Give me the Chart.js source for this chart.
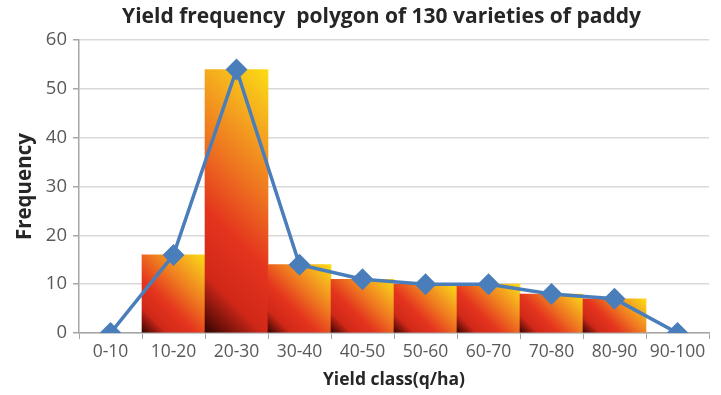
<!DOCTYPE html>
<html>
<head>
<meta charset="utf-8">
<script src="https://cdn.jsdelivr.net/npm/chart.js@4.4.1/dist/chart.umd.min.js"></script>
<style>
  html, body { margin: 0; padding: 0; background: #fff; }
  #wrap { width: 721px; height: 395px; }
</style>
</head>
<body>
<div id="wrap"><canvas id="chart"></canvas></div>
<script>
// classes de rendement et fréquences
const classes = ['0-10', '10-20', '20-30', '30-40', '40-50', '50-60', '60-70', '70-80', '80-90', '90-100'];
const barFreq = [null, 16, 54, 14, 11, 10, 10, 8, 7, null];
const polyFreq = [0, 16, 54, 14, 11, 10, 10, 8, 7, 0];
const yTicks = [0, 10, 20, 30, 40, 50, 60];

const FONT = "'Open Sans', 'Liberation Sans', sans-serif";

// dégradé à 45° pour chaque barre (coin bas-gauche sombre -> coin haut-droite jaune)
function barGradient(c) {
  const chart = c.chart;
  const xs = chart.scales.x, ys = chart.scales.y;
  const v = c.raw;
  if (!xs || !ys || v == null || !chart.chartArea) return '#e03020';
  const w = xs.width / classes.length;
  const x0 = xs.getPixelForValue(c.dataIndex) - w / 2;
  const top = ys.getPixelForValue(v);
  const base = ys.getPixelForValue(0);
  if (![x0, top, base, w].every(Number.isFinite)) return '#e03020';
  const s = (w + (base - top)) / 2;
  const g = chart.ctx.createLinearGradient(x0, base, x0 + s, base - s);
  g.addColorStop(0, '#2a0503');
  g.addColorStop(0.06, '#6a0f08');
  g.addColorStop(0.18, '#d02818');
  g.addColorStop(0.38, '#e4341e');
  g.addColorStop(0.62, '#ef7a20');
  g.addColorStop(0.82, '#f5ae1e');
  g.addColorStop(1, '#fbdc14');
  return g;
}

// décale le titre pour le centrer comme dans l'original
const shiftTitle = {
  id: 'shiftTitle',
  afterLayout(chart) {
    const t = chart.titleBlock;
    if (t) { t.left += 48; }
  }
};

new Chart(document.getElementById('chart'), {
  data: {
    labels: classes,
    datasets: [
      {
        type: 'line',
        data: polyFreq,
        borderColor: '#4a7ebb',
        backgroundColor: '#4a7ebb',
        borderWidth: 3.5,
        pointStyle: 'rectRot',
        pointRadius: 8.5,
        pointHoverRadius: 8.5,
        order: 0
      },
      {
        type: 'bar',
        data: barFreq,
        backgroundColor: barGradient,
        categoryPercentage: 1.0,
        barPercentage: 1.0,
        order: 1
      }
    ]
  },
  options: {
    responsive: true,
    maintainAspectRatio: false,
    animation: false,
    layout: { padding: { top: 0, right: 6, left: 0, bottom: 0 } },
    plugins: {
      legend: { display: false },
      tooltip: { enabled: false },
      title: {
        display: true,
        text: 'Yield frequency  polygon of 130 varieties of paddy',
        color: '#262626',
        font: { family: FONT, size: 21, weight: 'bold' },
        padding: { top: 4, bottom: 11 }
      }
    },
    scales: {
      x: {
        offset: true,
        grid: { offset: true, display: true, drawOnChartArea: false, drawTicks: true, tickLength: 6, tickColor: '#a6a6a6' },
        border: { color: '#a6a6a6', width: 1.5 },
        ticks: { color: '#595959', font: { family: FONT, size: 17.5 }, padding: 3, maxRotation: 0, autoSkip: false },
        afterFit(axis) { axis.height = 62; },
        title: {
          display: true,
          text: 'Yield class(q/ha)',
          color: '#262626',
          font: { family: FONT, size: 17.5, weight: 'bold' },
          padding: { top: 2, bottom: 4 }
        }
      },
      y: {
        min: 0,
        max: 60,
        afterBuildTicks(axis) { axis.ticks = yTicks.map(v => ({ value: v })); },
        afterFit(axis) { axis.width = 79; },
        grid: { color: '#d9d9d9', lineWidth: 1.5, tickLength: 6, tickColor: '#a6a6a6' },
        border: { color: '#a6a6a6', width: 1.5 },
        ticks: { color: '#595959', font: { family: FONT, size: 18.5 }, padding: 6 },
        title: {
          display: true,
          text: 'Frequency',
          color: '#262626',
          font: { family: FONT, size: 20.5, weight: 'bold' },
          padding: { top: 13, bottom: 0 }
        }
      }
    }
  },
  plugins: [shiftTitle]
});
</script>
</body>
</html>
